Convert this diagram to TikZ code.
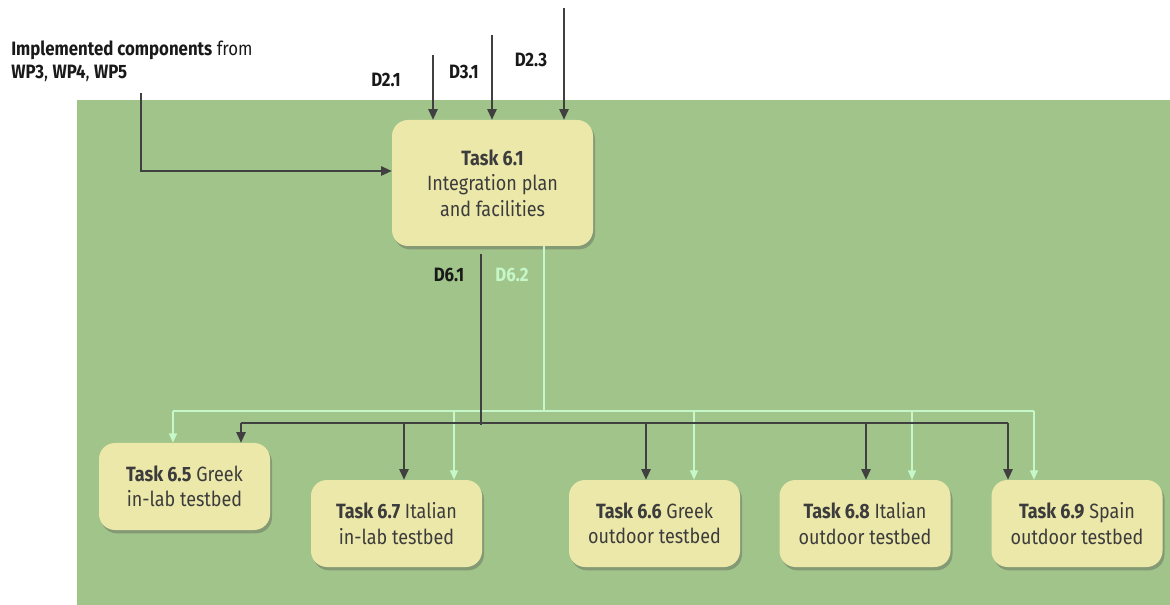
\documentclass[tikz,border=0pt]{standalone}
\usepackage{fontspec}
\setmainfont{Fira Sans}[FakeStretch=0.87]
\usetikzlibrary{arrows.meta,shadows}
\definecolor{panel}{HTML}{A1C48A}
\definecolor{boxfill}{HTML}{ECE8AA}
\definecolor{ink}{HTML}{3C3C3C}
\definecolor{flowdark}{HTML}{404040}
\definecolor{flowlight}{HTML}{C6F7C9}
\tikzset{
  taskbox/.style={draw=none, fill=boxfill, rounded corners=12pt, align=center,
    text=ink, font=\fontsize{15.5}{19}\selectfont,
    drop shadow={shadow xshift=1.5pt, shadow yshift=-2.5pt, opacity=0.35, fill=black!70}},
  lbl/.style={font=\fontsize{14.5}{17}\selectfont\bfseries, text=black!90, inner sep=0pt},
  darkflow/.style={draw=flowdark, line width=1.3pt},
  lightflow/.style={draw=flowlight, line width=1.1pt},
  darkarr/.style={darkflow, -{Triangle[length=8pt,width=7pt]}},
  lightarr/.style={lightflow, -{Triangle[length=7pt,width=6pt]}},
}
\begin{document}
\begin{tikzpicture}[x=0.75pt,y=-0.75pt]
\useasboundingbox (0,0) rectangle (1170,605);
% green work-package panel
\fill[panel] (77,100) rectangle (1170,605);

% task boxes
\node[taskbox, minimum width=150.75pt, minimum height=94.5pt] (t61) at (492.5,183)
  {\textbf{Task 6.1}\\Integration plan\\and facilities};
\node[taskbox, minimum width=128.25pt, minimum height=65.25pt] (t65) at (184.5,486.5)
  {\textbf{Task 6.5} Greek\\in-lab testbed};
\node[taskbox, minimum width=128.25pt, minimum height=65.25pt] (t67) at (396.5,523.5)
  {\textbf{Task 6.7} Italian\\in-lab testbed};
\node[taskbox, minimum width=128.25pt, minimum height=65.25pt] (t66) at (654.5,523.5)
  {\textbf{Task 6.6} Greek\\outdoor testbed};
\node[taskbox, minimum width=128.25pt, minimum height=65.25pt] (t68) at (865,523.5)
  {\textbf{Task 6.8} Italian\\outdoor testbed};
\node[taskbox, minimum width=128.25pt, minimum height=65.25pt] (t69) at (1077,523.5)
  {\textbf{Task 6.9} Spain\\outdoor testbed};

% inputs
\node[anchor=west, inner sep=0pt, align=left, text=black!90,
      font=\fontsize{14.5}{17}\selectfont] (impl) at (11,61)
  {\textbf{Implemented components} from\\\textbf{WP3}, \textbf{WP4}, \textbf{WP5}};
\coordinate (implbend) at (141,93);
\draw[darkarr] (implbend) |- (t61.west |- 0,171);

\coordinate (in21) at (433,55);
\coordinate (in31) at (492,35);
\coordinate (in23) at (564,8);
\draw[darkarr] (in21) -- (in21 |- t61.north);
\draw[darkarr] (in31) -- (in31 |- t61.north);
\draw[darkarr] (in23) -- (in23 |- t61.north);
\node[lbl] (l21) at (386,80) {D2.1};
\node[lbl] (l31) at (464,72) {D3.1};
\node[lbl] (l23) at (531,60) {D2.3};

% outputs: D6.2 (light) bus
\coordinate (d62top) at (544,246);
\coordinate (d62bus) at (544,411);
\draw[lightflow] (d62top) -- (d62bus);
\draw[lightflow] (173,411) -- (1034,411);
\foreach \xx/\tgt in {173/t65,454/t67,694/t66,912/t68,1034/t69}
  \draw[lightarr] (\xx,411) -- (\xx,411 |- \tgt.north);

% outputs: D6.1 (dark) bus
\coordinate (d61top) at (481,254);
\coordinate (d61bus) at (481,425);
\draw[darkflow] (d61top) -- (d61bus);
\draw[darkflow] (241,423) -- (1008,423);
\foreach \xx/\tgt in {241/t65,404/t67,646/t66,866/t68,1008/t69}
  \draw[darkarr] (\xx,423) -- (\xx,423 |- \tgt.north);

\node[lbl] (l61) at (449,275) {D6.1};
\node[lbl, text=flowlight] (l62) at (512,275) {D6.2};
\end{tikzpicture}
\end{document}
